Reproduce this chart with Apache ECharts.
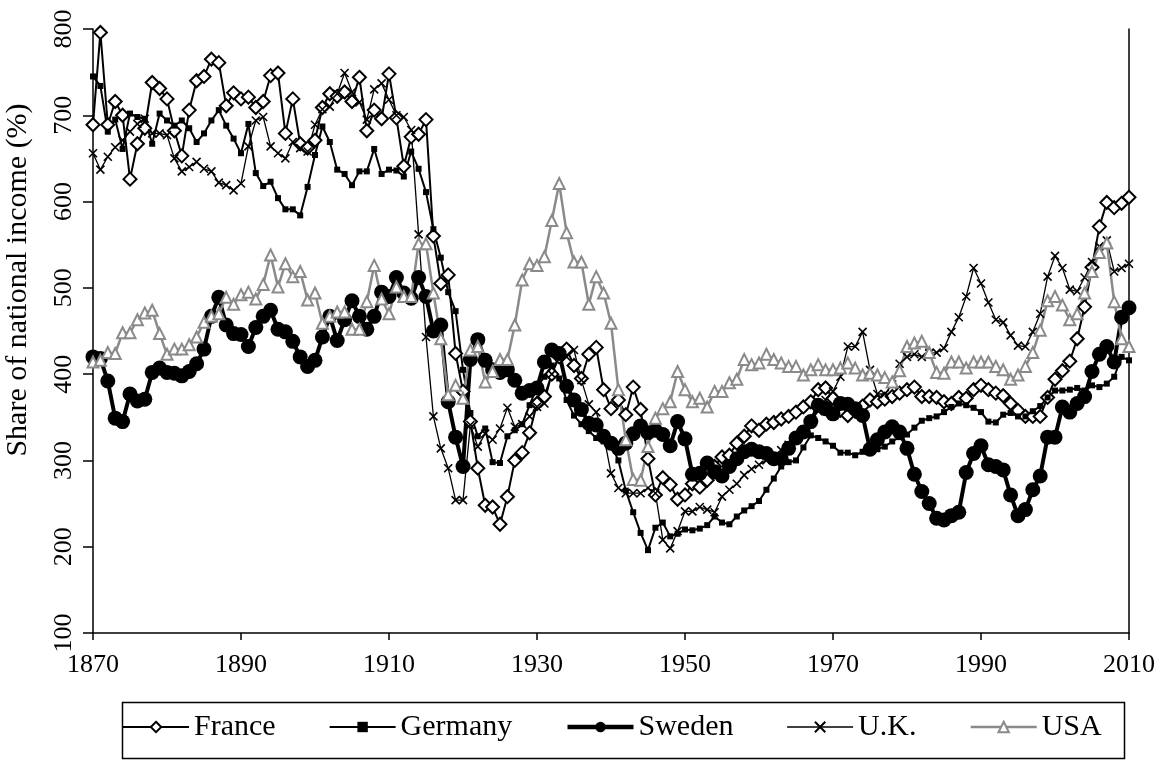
<!DOCTYPE html>
<html><head><meta charset="utf-8">
<script src="https://cdn.jsdelivr.net/npm/echarts@6/dist/echarts.min.js"></script>
<style>html,body{margin:0;padding:0;background:#fff}#c{width:1160px;height:769px}</style>
</head><body><div id="c"></div>
<script>
const years = [
1870,1871,1872,1873,1874,1875,1876,1877,1878,1879,
1880,1881,1882,1883,1884,1885,1886,1887,1888,1889,
1890,1891,1892,1893,1894,1895,1896,1897,1898,1899,
1900,1901,1902,1903,1904,1905,1906,1907,1908,1909,
1910,1911,1912,1913,1914,1915,1916,1917,1918,1919,
1920,1921,1922,1923,1924,1925,1926,1927,1928,1929,
1930,1931,1932,1933,1934,1935,1936,1937,1938,1939,
1940,1941,1942,1943,1944,1945,1946,1947,1948,1949,
1950,1951,1952,1953,1954,1955,1956,1957,1958,1959,
1960,1961,1962,1963,1964,1965,1966,1967,1968,1969,
1970,1971,1972,1973,1974,1975,1976,1977,1978,1979,
1980,1981,1982,1983,1984,1985,1986,1987,1988,1989,
1990,1991,1992,1993,1994,1995,1996,1997,1998,1999,
2000,2001,2002,2003,2004,2005,2006,2007,2008,2009,
2010];

const france = [
689,796,689,716,700,626,667,685,738,731,
719,682,653,706,740,745,765,761,711,726,
719,721,709,716,746,749,679,719,667,662,
671,709,725,722,727,716,744,682,706,696,
748,697,641,675,678,695,560,505,515,424,
380,345,291,248,246,226,258,300,309,332,
366,374,400,420,429,410,395,423,431,382,
360,370,353,385,359,302,260,280,272,255,
260,273,269,277,293,304,306,320,328,340,
335,342,344,348,351,356,362,368,382,384,
372,358,352,357,363,370,368,371,374,378,
382,385,374,374,373,368,366,373,372,382,
387,382,378,375,366,358,351,351,351,373,
394,404,415,441,478,524,571,599,593,598,
605];

const germany = [
745,734,681,695,661,702,698,696,667,702,
694,688,694,685,669,679,694,706,688,673,
656,690,633,618,623,604,591,591,584,617,
654,687,669,637,632,619,635,635,661,632,
637,636,629,658,638,611,568,535,495,473,
405,355,328,337,298,297,328,335,342,364,
385,397,410,395,370,352,342,334,326,322,
318,300,265,240,216,196,222,228,212,215,
220,219,221,225,235,228,226,235,242,247,
253,266,279,293,298,300,315,329,326,322,
317,309,309,306,310,312,313,316,322,327,
330,338,346,349,351,356,362,366,364,361,
356,345,344,353,355,351,351,357,363,373,
381,381,382,384,381,387,385,389,397,420,
416];

const sweden = [
420,418,392,349,345,377,369,371,402,407,
402,401,398,403,412,429,467,489,457,447,
446,432,454,467,474,452,449,438,420,409,
416,443,467,439,463,485,467,452,467,495,
490,512,494,488,512,490,450,457,368,327,
293,417,440,416,405,402,405,393,378,381,
384,414,428,424,386,370,359,343,341,328,
320,314,320,331,340,332,335,330,317,345,
325,284,285,297,287,282,293,302,310,313,
310,308,302,302,314,326,333,345,364,360,
354,366,365,360,352,313,324,333,339,333,
314,284,264,250,233,231,236,240,286,308,
317,295,293,289,260,236,243,266,282,327,
327,362,356,366,374,403,423,432,414,466,
477];

const uk = [
656,637,652,663,671,681,690,696,679,679,
677,650,635,640,646,638,635,622,619,613,
621,664,694,698,664,656,650,669,662,658,
689,707,710,725,749,727,715,695,730,737,
718,700,698,683,562,443,351,314,291,254,
254,341,316,331,324,337,361,339,342,351,
362,366,400,424,420,428,393,365,356,330,
285,268,262,262,262,268,262,208,198,218,
241,241,246,243,240,258,266,273,283,290,
295,300,305,312,318,325,335,345,357,370,
380,397,432,432,449,405,377,377,388,412,
420,423,420,424,425,430,449,466,490,523,
505,483,463,460,445,433,432,449,470,513,
537,523,498,496,512,530,548,555,519,523,
528];

const usa = [
414,416,425,424,448,448,463,471,474,447,
423,429,429,434,443,460,467,470,489,481,
492,495,487,504,538,501,528,513,519,486,
494,459,467,472,472,452,452,484,526,487,
470,501,490,490,551,551,494,441,376,387,
372,428,432,391,403,417,417,457,509,528,
526,536,578,621,564,530,530,481,513,494,
459,382,324,278,277,316,349,360,368,403,
382,368,372,362,380,380,390,394,417,411,
413,423,417,413,409,409,399,405,411,405,
405,407,413,407,399,401,399,396,391,404,
432,436,438,425,402,401,414,414,407,414,
414,414,409,405,394,399,409,425,451,485,
490,480,463,470,494,519,541,552,484,441,
432];

const seriesNames = ['France','Germany','Sweden','U.K.','USA'];
const yTitle = 'Share of national income (%)';
const yMin = 100, yMax = 800, yStep = 100;

const FONT = 'Liberation Serif';
const GRAY = '#8a8a8a';
const crossPath = 'path://M0,0L10,10M10,0L0,10';

function line(name, data, extra) {
  return Object.assign({
    name: name, type: 'line', data: data,
    showAllSymbol: true, animation: false,
    emphasis: { disabled: true }, z: 2
  }, extra);
}

const chart = echarts.init(document.getElementById('c'));
chart.setOption({
  animation: false,
  backgroundColor: '#fff',
  grid: { left: 93, right: 31, top: 29, bottom: 136, containLabel: false },
  xAxis: {
    type: 'category', data: years, boundaryGap: false,
    axisLine: { lineStyle: { color: '#000', width: 1.5 } },
    axisTick: { show: true, interval: 19, length: 7, lineStyle: { color: '#000', width: 1.5 } },
    axisLabel: { interval: 19, color: '#000', fontFamily: FONT, fontSize: 26, margin: 19 },
    splitLine: { show: false }
  },
  yAxis: [{
    type: 'value', min: yMin, max: yMax, interval: yStep,
    axisLine: { show: true, lineStyle: { color: '#000', width: 1.5 } },
    axisTick: { show: true, length: 10, lineStyle: { color: '#000', width: 1.5 } },
    axisLabel: { rotate: 90, color: '#000', fontFamily: FONT, fontSize: 26, margin: 16 },
    splitLine: { show: false }
  }, {
    type: 'value', min: yMin, max: yMax, interval: yStep, position: 'right',
    axisLine: { show: true, lineStyle: { color: '#000', width: 1.5 } },
    axisTick: { show: false }, axisLabel: { show: false }, splitLine: { show: false }
  }],
  legend: {
    left: 122, top: 712, padding: 0, itemGap: 53, itemWidth: 66, itemHeight: 13,
    textStyle: { fontFamily: FONT, fontSize: 30, color: '#000' },
    data: [
      { name: seriesNames[0], lineStyle: { width: 2 } },
      { name: seriesNames[1], lineStyle: { width: 2 } },
      { name: seriesNames[2], lineStyle: { width: 4.5 } },
      { name: seriesNames[3], lineStyle: { width: 1.3 } },
      { name: seriesNames[4], lineStyle: { width: 2.5 } }
    ]
  },
  graphic: [
    { type: 'rect', left: 120, top: 700, shape: { width: 1002, height: 56 },
      style: { fill: 'none', stroke: '#000', lineWidth: 1.5 }, silent: true },
    { type: 'text', x: 18, y: 280, rotation: Math.PI / 2,
      style: { text: yTitle, font: '30px "Liberation Serif"', fill: '#000',
               textAlign: 'center', textVerticalAlign: 'middle' }, silent: true }
  ],
  series: [
    line(seriesNames[0], france, {
      symbol: 'diamond', symbolSize: 13,
      itemStyle: { color: '#fff', borderColor: '#000', borderWidth: 2 },
      lineStyle: { color: '#000', width: 2 }
    }),
    line(seriesNames[1], germany, {
      symbol: 'rect', symbolSize: 6,
      itemStyle: { color: '#000' },
      lineStyle: { color: '#000', width: 2 }
    }),
    line(seriesNames[2], sweden, {
      symbol: 'circle', symbolSize: 15,
      itemStyle: { color: '#000' },
      lineStyle: { color: '#000', width: 4 }
    }),
    line(seriesNames[3], uk, {
      symbol: crossPath, symbolSize: 8,
      itemStyle: { color: '#000', borderColor: '#000', borderWidth: 1.6 },
      lineStyle: { color: '#000', width: 1.3 }
    }),
    line(seriesNames[4], usa, {
      symbol: 'triangle', symbolSize: 11,
      itemStyle: { color: '#fff', borderColor: GRAY, borderWidth: 2 },
      lineStyle: { color: GRAY, width: 2.5 }
    })
  ]
});
</script>
</body></html>
